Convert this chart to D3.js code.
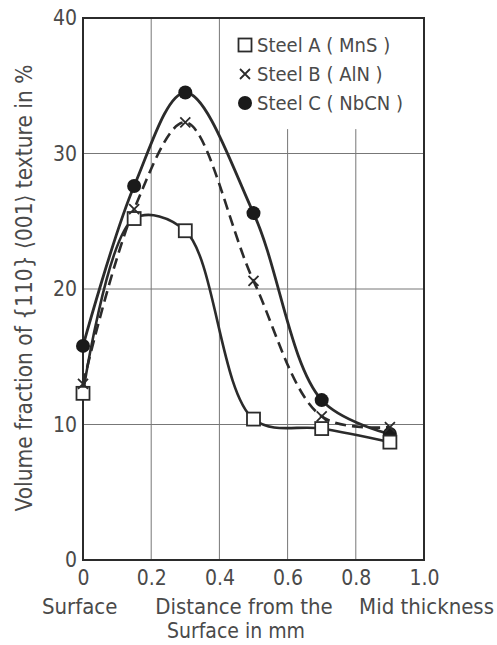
<!DOCTYPE html>
<html>
<head>
<meta charset="utf-8">
<script src="https://cdn.jsdelivr.net/npm/d3@7"></script>
<style>
  body { margin: 0; background: #fff; }
  svg text { font-family: "DejaVu Sans Condensed", "Liberation Sans Narrow", sans-serif; fill: #4a4a4a; }
</style>
</head>
<body>
<svg id="chart" width="497" height="645"></svg>
<script>
// distances from the surface in mm
const distance = [0, 0.15, 0.3, 0.5, 0.7, 0.9];

// volume fraction of {110}<001> texture in %
const steelA = [12.3, 25.2, 24.3, 10.4, 9.7, 8.7];
const steelB = [13.0, 25.9, 32.3, 20.6, 10.6, 9.8];
const steelC = [15.8, 27.6, 34.5, 25.6, 11.8, 9.3];

const seriesNames = ['Steel A ( MnS )', 'Steel B ( AlN )', 'Steel C ( NbCN )'];
const xTicks = [0, 0.2, 0.4, 0.6, 0.8, 1.0];
const yTicks = [0, 10, 20, 30, 40];

const svg = d3.select('#chart');
const ink = '#2b2b2b';

const x = d3.scaleLinear().domain([0, 1]).range([83, 424]);
const y = d3.scaleLinear().domain([0, 40]).range([560, 18]);

// grid
const grid = svg.append('g')
    .attr('stroke', '#777')
    .attr('stroke-width', 1);

grid.selectAll('line.v')
    .data(xTicks.slice(1, -1))
    .enter()
    .append('line')
    .attr('class', 'v')
    .attr('x1', x).attr('x2', x)
    .attr('y1', y(0)).attr('y2', y(40));

grid.selectAll('line.h')
    .data(yTicks.slice(1, -1))
    .enter()
    .append('line')
    .attr('class', 'h')
    .attr('x1', x(0)).attr('x2', x(1))
    .attr('y1', y).attr('y2', y);

// legend background hides grid lines behind it
svg.append('rect')
    .attr('x', x(0.43)).attr('y', y(40))
    .attr('width', x(1) - x(0.43)).attr('height', y(31.8) - y(40))
    .attr('fill', '#fff');

// frame
svg.append('rect')
    .attr('x', x(0)).attr('y', y(40))
    .attr('width', x(1) - x(0)).attr('height', y(0) - y(40))
    .attr('fill', 'none')
    .attr('stroke', ink)
    .attr('stroke-width', 2);

// axes
const xAxis = svg.append('g')
    .attr('transform', 'translate(0,' + y(0) + ')')
    .call(d3.axisBottom(x).tickValues(xTicks).tickSize(0).tickPadding(10)
        .tickFormat(function (d) { return d === 0 ? '0' : d3.format('.1f')(d); }));
xAxis.select('.domain').remove();
xAxis.selectAll('text').style('font-size', '21px').attr('fill', '#4a4a4a');

const yAxis = svg.append('g')
    .attr('transform', 'translate(' + x(0) + ',0)')
    .call(d3.axisLeft(y).tickValues(yTicks).tickSize(0).tickPadding(6));
yAxis.select('.domain').remove();
yAxis.selectAll('text').style('font-size', '21px').attr('fill', '#4a4a4a');

// curves
const line = d3.line()
    .x(function (d) { return x(d[0]); })
    .y(function (d) { return y(d[1]); })
    .curve(d3.curveCatmullRom.alpha(0.5));

function pairs(values) {
    return distance.map(function (d, i) { return [d, values[i]]; });
}

svg.append('path')
    .datum(pairs(steelA))
    .attr('d', line)
    .attr('fill', 'none').attr('stroke', ink).attr('stroke-width', 2.6);

svg.append('path')
    .datum(pairs(steelB))
    .attr('d', line)
    .attr('fill', 'none').attr('stroke', ink).attr('stroke-width', 2.6)
    .attr('stroke-dasharray', '11,6');

svg.append('path')
    .datum(pairs(steelC))
    .attr('d', line)
    .attr('fill', 'none').attr('stroke', ink).attr('stroke-width', 2.8);

// markers
function square(g, cx, cy) {
    g.append('rect')
        .attr('x', cx - 6.5).attr('y', cy - 6.5)
        .attr('width', 13).attr('height', 13)
        .attr('fill', '#fff').attr('stroke', ink).attr('stroke-width', 1.8);
}
function cross(g, cx, cy) {
    g.append('path')
        .attr('d', 'M' + (cx - 5) + ',' + (cy - 5) + 'L' + (cx + 5) + ',' + (cy + 5) +
            'M' + (cx + 5) + ',' + (cy - 5) + 'L' + (cx - 5) + ',' + (cy + 5))
        .attr('stroke', ink).attr('stroke-width', 1.8);
}
function dot(g, cx, cy) {
    g.append('circle')
        .attr('cx', cx).attr('cy', cy).attr('r', 7)
        .attr('fill', '#1a1a1a');
}

const marks = svg.append('g');
pairs(steelC).forEach(function (d) { dot(marks, x(d[0]), y(d[1])); });
pairs(steelA).forEach(function (d) { square(marks, x(d[0]), y(d[1])); });
pairs(steelB).forEach(function (d) { cross(marks, x(d[0]), y(d[1])); });

// legend
const legend = svg.append('g');
const symbols = [square, cross, dot];
seriesNames.forEach(function (name, i) {
    const ly = 45 + i * 29;
    symbols[i](legend, 245, ly);
    legend.append('text')
        .attr('x', 257).attr('y', ly + 7)
        .style('font-size', '20px')
        .text(name);
});

// axis titles
svg.append('text')
    .attr('transform', 'translate(32,' + 288 + ') rotate(-90)')
    .attr('text-anchor', 'middle')
    .style('font-size', '22.5px')
    .text('Volume fraction of {110} \u27E8001\u27E9 texture in %');

svg.append('text')
    .attr('x', 42).attr('y', 614)
    .style('font-size', '22px')
    .text('Surface');

svg.append('text')
    .attr('x', 244).attr('y', 614)
    .attr('text-anchor', 'middle')
    .style('font-size', '22px')
    .text('Distance from the');

svg.append('text')
    .attr('x', 236).attr('y', 638)
    .attr('text-anchor', 'middle')
    .style('font-size', '21px')
    .text('Surface in mm');

svg.append('text')
    .attr('x', 494).attr('y', 614)
    .attr('text-anchor', 'end')
    .style('font-size', '22px')
    .text('Mid thickness');
</script>
</body>
</html>
